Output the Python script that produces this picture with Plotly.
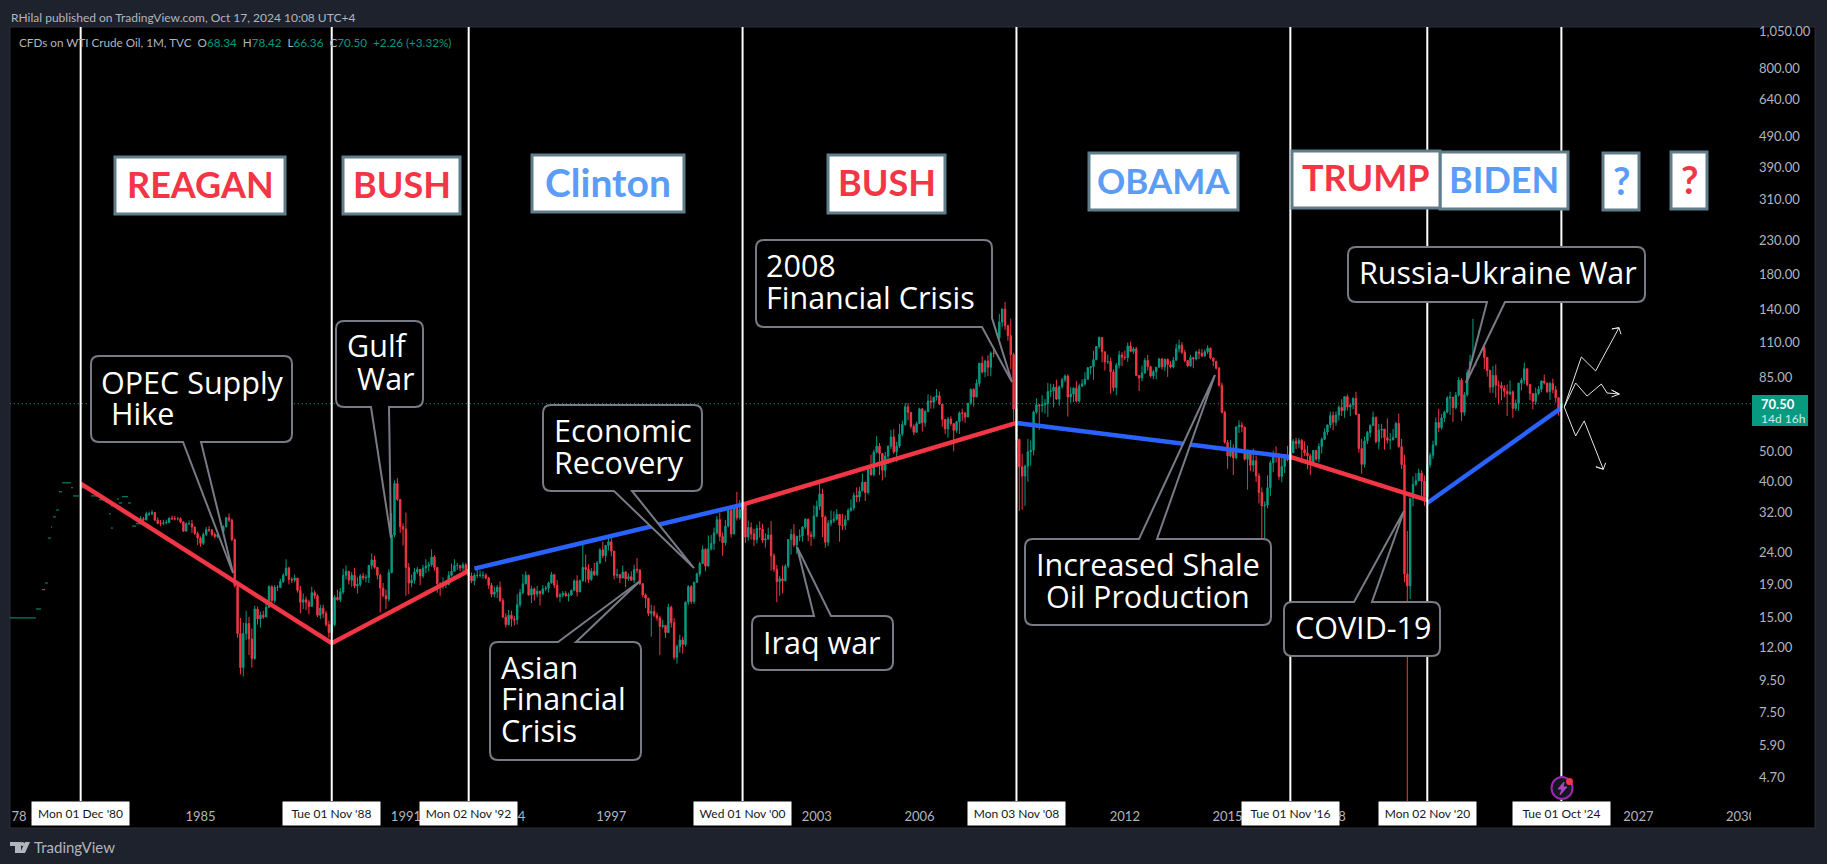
import math
import plotly.graph_objects as go

# ---------- data: monthly candles Apr 1983 .. Oct 2024 ----------
first_year, first_month = 1983, 4
closes = [
30.6,30.4,31.7,31.7,32.0,30.3,29.6,29.6,29.7,
29.8,30.7,30.6,30.6,30.6,29.9,28.0,29.5,29.5,28.8,27.5,26.6,
25.6,27.3,28.3,28.2,27.3,26.9,27.3,27.9,28.9,30.8,30.3,26.3,
18.8,13.3,10.4,13.3,14.3,12.8,11.1,15.9,14.8,15.2,15.0,16.1,
18.7,16.9,18.6,18.6,19.4,20.3,21.4,19.7,19.6,19.9,18.2,16.7,
17.0,16.7,16.2,17.9,17.5,15.2,16.0,15.4,14.2,13.4,14.2,17.3,
17.0,18.0,20.3,20.9,19.6,20.3,18.8,19.0,20.2,19.9,20.0,21.8,
22.7,21.5,20.3,18.5,17.5,17.1,20.7,27.2,39.5,35.2,28.9,28.4,
21.5,19.2,19.6,20.8,21.2,20.2,21.4,21.7,21.9,23.2,21.5,19.1,
18.9,19.0,19.0,20.3,20.9,21.8,21.8,21.4,21.9,20.7,20.2,19.5,
20.3,20.3,20.3,20.3,19.9,18.9,17.7,18.0,18.6,16.9,15.0,14.2,
15.2,14.8,14.7,16.4,17.9,19.1,20.3,17.6,18.4,17.7,18.1,17.8,
18.4,18.5,19.2,20.4,18.9,17.4,17.6,17.8,17.5,17.6,18.2,19.5,
18.0,19.5,21.5,21.2,19.7,20.9,20.4,22.2,24.4,23.4,25.2,25.9,
24.2,20.3,20.4,19.9,20.8,19.8,20.1,19.6,21.2,21.1,19.1,17.6,
17.2,15.4,15.6,15.2,14.9,14.0,14.1,13.4,16.1,14.4,11.2,12.1,
12.7,12.3,16.7,18.7,16.8,19.3,20.5,22.1,24.5,21.7,24.6,25.6,
27.6,30.4,26.9,25.7,29.0,32.5,27.4,33.1,30.8,32.7,33.8,26.8,
28.7,27.4,26.3,28.5,28.4,26.2,26.4,27.2,23.4,21.2,19.4,19.8,
19.5,21.7,26.3,27.3,25.3,26.9,27.0,28.8,30.5,27.2,26.9,31.2,
33.5,36.6,31.0,25.8,29.6,30.2,30.5,31.6,29.2,29.1,30.4,32.5,
33.1,36.2,35.8,37.4,39.9,37.0,43.8,42.1,49.6,51.8,49.1,43.5,
48.2,51.8,55.4,49.7,51.9,56.5,60.6,68.9,66.2,59.8,57.3,61.0,
67.9,61.4,66.6,71.9,71.3,73.9,74.6,70.3,62.9,58.7,63.1,61.0,
58.1,61.8,65.9,65.8,64.0,70.7,78.2,74.0,81.7,94.5,88.7,96.0,
91.8,101.8,101.6,113.5,127.4,140.0,124.1,115.5,100.6,67.8,54.4,44.6,
41.7,44.8,49.7,50.3,66.3,69.9,69.5,69.9,70.5,77.0,77.3,79.4,
72.9,79.7,83.8,86.2,74.0,75.6,78.9,71.9,79.97,81.4,84.1,91.4,
92.2,97.0,106.7,113.9,102.7,95.4,95.7,88.8,79.2,93.2,100.4,98.8,
98.5,107.1,103.0,104.9,86.5,84.96,88.1,96.5,92.2,86.2,88.9,91.8,
97.5,92.1,97.2,93.5,91.97,96.6,105.0,107.7,102.3,96.4,92.7,98.4,
97.5,102.6,101.6,99.7,102.7,105.4,98.2,95.96,91.2,80.5,66.2,53.3,
48.2,49.8,47.6,59.6,60.3,59.5,47.1,49.2,45.1,46.6,41.7,37.0,
33.6,33.8,38.3,45.9,49.1,48.3,41.6,44.7,48.2,46.9,49.4,53.7,
52.8,54.0,50.6,49.3,48.3,46.0,50.2,47.2,51.7,54.4,57.4,60.4,
64.7,61.6,64.9,68.6,67.0,74.2,68.8,69.8,73.2,65.3,50.9,45.4,
53.8,57.2,60.1,63.9,53.5,58.2,58.6,55.1,54.1,54.2,55.2,61.1,
51.6,45.3,20.5,18.8,35.5,39.3,40.3,42.6,40.2,35.9,45.3,48.5,
52.2,61.5,59.2,63.6,66.3,73.5,73.9,68.5,75.0,83.6,66.2,75.2,
88.2,95.7,100.3,104.7,114.7,105.8,98.6,89.6,79.5,86.5,80.6,80.5,
78.9,77.1,75.7,76.8,68.1,70.6,81.8,83.6,90.8,81.0,75.9,71.7,
75.9,78.3,83.1,81.9,76.9,81.6,78.0,73.6,68.24,70.50]
highs = [
31.2,31.0,32.2,32.2,32.6,32.1,30.9,30.3,30.4,
30.4,30.9,31.3,31.2,31.0,30.9,30.1,29.8,30.2,30.3,28.9,27.9,
26.9,27.7,28.8,29.0,28.4,27.7,27.8,28.3,29.2,31.0,31.8,30.6,
26.5,19.5,14.9,14.4,15.7,15.0,13.8,16.3,16.2,15.6,15.7,16.6,
18.9,18.9,18.9,18.9,19.8,20.6,22.8,21.6,20.0,20.4,19.9,18.8,
17.8,17.4,17.0,18.7,18.2,17.7,16.4,16.4,15.7,14.6,15.6,17.6,
18.3,18.5,21.3,21.8,20.9,20.8,21.4,20.0,20.5,20.7,20.4,21.9,
23.8,23.4,21.5,20.5,19.2,18.3,21.2,31.9,40.4,41.1,35.3,29.6,
32.0,22.2,20.4,21.4,21.6,21.1,21.9,22.8,22.4,24.5,23.5,21.1,
19.3,20.0,19.5,20.9,22.1,22.8,22.2,21.8,22.3,22.2,20.9,20.7,
20.6,21.2,21.0,20.9,20.6,20.1,19.2,18.7,18.9,19.4,17.2,15.4,
15.8,15.7,15.1,17.7,18.4,20.5,20.9,20.4,18.8,18.6,18.8,18.0,
18.9,18.8,19.4,20.8,20.5,19.6,17.9,18.1,18.1,17.9,18.3,19.7,
20.3,19.7,25.4,23.6,22.0,21.4,22.2,22.5,24.7,25.9,25.3,26.7,
26.6,24.2,21.3,20.5,21.8,20.9,20.6,20.9,21.9,23.0,21.2,19.2,
17.8,17.1,16.4,16.3,15.5,15.1,14.7,14.1,16.5,16.3,14.9,12.3,
13.2,13.0,16.8,18.9,18.9,19.4,20.7,22.4,25.2,24.7,27.1,27.2,
28.7,31.2,32.0,27.7,30.3,32.8,32.8,33.3,37.2,35.0,34.8,34.5,
30.2,29.8,28.4,29.3,30.0,29.5,27.5,28.7,30.1,23.8,21.9,20.2,
21.8,22.0,26.4,28.4,29.4,27.1,28.3,29.0,30.7,30.6,27.9,33.7,
34.9,39.9,38.0,31.3,30.3,32.5,32.3,32.8,31.6,31.7,31.4,33.0,
35.2,37.0,38.4,38.6,42.4,39.9,44.2,48.7,50.5,55.7,53.0,46.3,
49.7,52.1,58.3,58.6,53.5,60.9,62.3,70.8,70.8,66.0,60.6,61.9,
68.4,67.3,67.4,75.4,74.8,73.9,78.4,77.0,70.4,60.8,64.0,64.3,
58.7,62.3,66.7,67.9,66.5,70.9,78.8,78.8,84.1,94.7,99.3,97.0,
100.1,103.0,111.8,119.9,135.1,140.4,147.3,125.0,130.6,102.0,70.3,54.7,
49.0,45.3,54.6,54.0,67.0,73.4,70.2,75.0,72.9,82.0,81.5,81.4,
83.9,80.5,85.0,87.2,87.2,79.4,79.4,83.0,81.5,84.2,88.6,92.0,
92.6,103.4,107.0,114.8,114.2,102.4,100.6,98.5,90.5,94.7,103.4,102.4,
103.7,109.8,110.5,106.3,106.4,86.5,92.9,98.3,100.4,92.8,90.0,91.9,
98.2,98.2,97.8,97.8,96.1,99.0,108.9,112.2,110.2,104.3,95.9,100.4,
99.0,103.4,105.0,104.9,104.5,107.7,105.9,98.3,95.9,92.0,82.1,67.0,
54.2,54.2,52.5,59.7,62.5,61.7,59.5,49.3,47.9,50.9,48.4,42.6,
38.4,34.7,41.9,46.7,50.2,51.7,49.3,48.8,48.4,51.9,49.9,54.5,
55.0,54.9,54.6,53.7,52.0,49.0,50.4,50.2,52.9,55.2,59.0,60.6,
66.6,66.6,66.7,69.6,72.8,74.3,75.3,70.9,73.9,76.9,64.0,54.6,
55.5,57.8,60.7,66.6,63.9,60.9,60.9,57.4,63.4,56.9,58.7,61.8,
65.6,54.6,48.7,28.0,35.6,41.6,42.6,44.0,43.5,41.9,46.2,49.4,
53.9,63.8,67.9,65.5,67.0,74.4,76.9,73.8,76.7,85.4,84.9,76.7,
90.2,100.5,130.5,109.0,119.9,123.7,111.1,97.6,90.3,92.6,93.7,83.3,
82.6,80.6,81.0,83.4,77.6,72.7,82.0,84.9,95.0,90.9,80.2,76.1,
79.2,80.1,83.3,87.0,79.4,82.6,84.5,80.1,72.3,78.42]
lows = [
30.0,29.9,30.2,31.2,31.4,30.1,29.4,29.0,29.2,
29.4,29.7,30.3,30.2,30.2,29.6,27.8,27.8,29.3,27.6,27.2,25.3,
25.0,25.3,27.0,27.8,26.9,26.5,26.6,27.0,27.7,28.7,29.9,26.0,
18.6,12.9,9.9,9.75,12.7,11.4,10.4,11.0,14.2,13.9,14.8,15.0,
16.0,16.6,16.6,18.1,18.5,19.2,20.2,19.0,19.2,19.3,17.9,15.4,
15.9,15.8,15.3,16.2,17.1,15.0,14.8,14.9,14.0,12.9,13.3,14.0,
16.9,16.7,17.7,19.7,19.0,18.7,18.5,17.8,18.7,19.6,19.3,19.2,
21.2,21.3,19.7,15.5,17.3,15.9,16.8,20.6,26.7,34.8,27.6,25.2,
17.5,17.7,18.6,19.1,20.5,18.9,19.9,20.6,20.9,21.6,21.0,17.9,
17.5,18.4,18.5,18.9,20.1,21.0,21.1,20.9,20.9,20.5,19.5,19.2,
18.9,19.9,20.0,19.8,19.7,18.4,17.3,17.3,17.2,16.7,14.9,13.9,
14.1,14.0,14.1,14.2,16.1,17.7,19.0,17.5,16.6,16.9,17.3,16.3,
17.6,18.1,17.9,19.1,18.5,17.2,16.7,17.3,17.4,16.8,17.5,18.1,
17.4,18.0,19.4,19.3,19.2,19.5,20.2,20.2,22.1,23.0,22.4,24.3,
23.3,19.7,19.9,19.2,19.9,18.6,19.5,19.5,19.2,20.6,18.9,17.3,
16.0,15.1,13.0,15.0,14.6,11.4,13.8,12.9,13.4,13.9,11.0,10.7,
11.6,11.5,12.1,16.4,16.5,16.5,19.2,20.1,22.1,20.9,21.8,24.3,
24.4,27.3,26.0,23.4,25.2,28.7,26.7,27.3,30.2,30.4,31.7,25.7,
26.1,26.3,25.1,25.6,26.7,25.7,24.8,26.3,21.0,20.8,16.7,17.5,
17.8,19.6,21.4,23.6,24.9,23.7,26.0,25.9,28.4,26.0,25.1,26.4,
30.9,32.6,26.8,24.8,25.1,29.0,29.7,30.2,25.9,28.2,28.2,30.2,
32.2,32.5,34.5,34.6,37.5,34.8,36.5,41.8,41.6,49.2,42.0,40.4,
41.3,45.5,50.8,49.0,46.2,51.1,55.7,60.1,62.5,58.9,56.1,57.0,
61.3,57.6,59.6,66.3,68.0,68.0,72.1,69.6,59.6,56.6,55.1,60.0,
49.9,57.1,56.6,62.1,61.4,63.9,69.9,69.0,73.9,79.8,87.7,85.4,
86.1,86.1,98.7,100.4,112.3,122.7,120.4,111.3,90.5,62.0,48.3,32.4,
32.7,33.6,40.0,45.0,48.5,65.5,58.3,66.2,65.6,64.0,74.0,68.6,
72.4,69.5,78.6,82.4,64.2,71.0,71.3,71.2,71.0,79.5,80.3,84.1,
87.1,83.9,96.9,105.0,95.2,89.6,94.0,75.7,77.1,74.9,91.0,92.5,
96.8,95.4,102.3,101.2,86.0,77.3,83.0,87.5,89.6,85.2,84.1,84.1,
91.7,90.2,89.3,85.6,91.0,91.1,96.2,102.2,101.0,95.2,91.8,92.4,
91.2,96.4,97.4,98.8,98.8,101.0,97.2,92.5,90.4,79.8,65.7,52.7,
44.0,47.8,42.0,47.0,57.0,57.3,46.7,37.8,43.2,43.0,39.9,34.2,
26.1,26.0,33.0,36.1,42.9,46.0,40.6,39.9,42.6,46.4,42.9,49.7,
50.7,51.2,47.0,48.2,43.8,42.0,45.4,46.5,46.0,49.1,54.8,56.1,
59.1,58.1,60.0,62.5,64.5,63.6,67.0,64.4,67.7,64.8,49.4,42.4,
44.4,52.6,55.2,59.9,52.8,50.6,54.8,50.5,52.8,50.6,54.7,55.0,
51.2,43.9,19.3,0.3,17.1,33.5,38.7,40.4,36.0,33.6,33.6,44.3,
47.3,52.0,57.3,58.4,61.6,65.7,65.0,61.7,67.6,74.2,62.3,64.6,
74.3,87.0,93.5,92.9,98.2,104.6,90.6,85.8,76.3,76.3,73.6,70.1,
72.3,73.8,64.4,74.9,63.6,66.9,67.0,77.6,81.4,79.8,72.2,67.7,
69.9,75.0,76.6,81.0,76.2,72.5,76.0,71.1,64.7,66.36]
first_open, latest_open = 30.4, 68.34

# sparse early quotes before 1983: month position start, end, price
early_x0 = [-66.8,-57.7,-55.6,-54.5,-53.5,-52.4,-51.7,-50.6,-49.6,-48.5,-45.4,-44.7,-41.9,-38.4,-35.6,-33.5,-31.4,-29.3,-28.6,-27.5,-25.4,-32.1,-31.4,-24.0,-22.6]
early_x1 = [-57.7,-55.9,-54.5,-53.5,-52.4,-52.0,-50.6,-49.6,-48.5,-45.4,-44.7,-42.6,-38.8,-35.6,-33.5,-31.4,-29.3,-28.6,-27.5,-25.4,-24.4,-31.4,-30.7,-22.6,-20.5]
early_px = [14.9,15.9,18.3,19.2,26.6,28.8,31.0,32.6,37.2,39.7,38.3,36.1,38.3,36.1,35.1,34.6,33.6,35.3,34.3,35.9,34.3,31.7,28.6,29.0,29.5]

# presidential term markers (month position on the bar axis) and their labels
era_x = [-42, 46, 94, 190, 286, 382, 430, 477]
era_labels = ["Mon 01 Dec '80","Tue 01 Nov '88","Mon 02 Nov '92","Wed 01 Nov '00","Mon 03 Nov '08","Tue 01 Nov '16","Mon 02 Nov '20","Tue 01 Oct '24"]

# party trend lines: x position, price
trend_red1_x, trend_red1_y = [-42, 46, 94], [39.5, 12.4, 21.0]
trend_blue1_x, trend_blue1_y = [96, 190], [21.3, 33.9]
trend_red2_x, trend_red2_y = [190, 286], [33.9, 61.3]
trend_blue2_x, trend_blue2_y = [286, 382], [61.3, 47.9]
trend_red3_x, trend_red3_y = [382, 430], [47.9, 35.0]
trend_blue3_x, trend_blue3_y = [430, 477], [34.3, 68.4]

# scenario arrows after the last bar
up_x, up_y = [478, 484.0, 489.0, 497.2, 494.7, 497.2, 497.9], [68.8, 98.9, 89.4, 122.3, 121.2, 122.3, 116.6]
side_x, side_y = [478, 482.0, 486.0, 491.0, 493.0, 497.3, 494.6, 497.3, 494.6], [68.8, 81.9, 74.5, 81.3, 76.2, 75.6, 77.8, 75.6, 74.0]
down_x, down_y = [478, 482.0, 485.0, 491.7, 489.1, 491.7, 492.5], [68.8, 55.8, 62.2, 43.8, 44.6, 43.8, 45.9]

# axis labels (labels hidden behind the term-date boxes in the source show only their visible digits)
price_ticks = [1050,800,640,490,390,310,230,180,140,110,85,50,40,32,24,19,15,12,9.5,7.5,5.9,4.7]
price_text = ["1,050.00","800.00","640.00","490.00","390.00","310.00","230.00","180.00","140.00","110.00","85.00","50.00","40.00","32.00","24.00","19.00","15.00","12.00","9.50","7.50","5.90","4.70"]
year_ticks = [-63.6,0,72,112.5,144,216,252,324,360,400.1,504,540]
year_text = ["78","1985","1991","4","1997","2003","2006","2012","2015","8","2027","2030"]

# ---------- layout constants ----------
W, H = 1827, 864
L, R, T, B = 10, 1751, 27, 801
X0, PXM = 200.5, 2.853          # pixel of month 0, pixels per month
Y_TOP, Y_BOTTOM = 1083, 3.95
BG = "#1e222d"; GRID = "#2a2e39"
RED, BLUE, UP = "#f23645", "#2962ff", "#089981"
LBLUE = "#5b9cf6"; TXT = "#b2b5be"; EDGE = "#787b86"; BOXEDGE = "#607d8b"
FONT = "Lato, 'Open Sans', sans-serif"
CALLOUT_FONT = "'Open Sans', Lato, sans-serif"

def fx(px): return (px - L) / (R - L)
def fy(py): return 1 - (py - T) / (B - T)

months = list(range(-21, -21 + len(closes)))
assert len(closes) == len(highs) == len(lows)
opens = [first_open] + closes[:-1]
opens[-1] = latest_open

shapes, annos = [], []

def rect(x0, y0, x1, y1, fill, line=None, lw=0, layer="above"):
    shapes.append(dict(type="rect", xref="paper", yref="paper", x0=fx(x0), x1=fx(x1), y0=fy(y0), y1=fy(y1),
                       fillcolor=fill, line=dict(color=line or fill, width=lw), layer=layer))

def path(points, fill=None, line=EDGE, lw=2, close=True, layer="above"):
    d = ""
    for p in points:
        if p[0] == "Q":
            d += f" Q {fx(p[1]):.5f} {fy(p[2]):.5f} {fx(p[3]):.5f} {fy(p[4]):.5f}"
        else:
            d += f" {'M' if not d else 'L'} {fx(p[0]):.5f} {fy(p[1]):.5f}"
    if close: d += " Z"
    shapes.append(dict(type="path", xref="paper", yref="paper", path=d, fillcolor=fill or "rgba(0,0,0,0)",
                       line=dict(color=line, width=lw), layer=layer))

def text(s, px, py, size, color="#ffffff", anchor="left", family=FONT):
    annos.append(dict(text=s, xref="paper", yref="paper", x=fx(px), y=fy(py), xanchor=anchor, yanchor="middle",
                      showarrow=False, font=dict(family=family, size=size, color=color), borderpad=0))

def callout(x0, y0, x1, y1, side, a, b, tip, lines, size=30.5):
    r = 8
    pts = [(x0 + r, y0)]
    if side == "top": pts += [(a, y0), tip, (b, y0)]
    pts += [(x1 - r, y0), ("Q", x1, y0, x1, y0 + r)]
    if side == "corner":
        pts += [(x1, a[1]), tip, b]
    else:
        pts += [(x1, y1 - r), ("Q", x1, y1, x1 - r, y1)]
        if side == "bottom": pts += [(b, y1), tip, (a, y1)]
    pts += [(x0 + r, y1), ("Q", x0, y1, x0, y1 - r), (x0, y0 + r), ("Q", x0, y0, x0 + r, y0)]
    path(pts, fill="#000000")
    for s, px, py in lines:
        text(s, px - 2, py, size, family=CALLOUT_FONT)

# pane, axis strips
rect(L, T, 1815, 828, "#000000", GRID, 1, layer="below")

# term marker lines
for x in era_x:
    shapes.append(dict(type="line", xref="x", yref="paper", x0=x, x1=x, y0=0, y1=1,
                       line=dict(color="#ffffff", width=2), layer="above"))

# clip partial tick label at the pane's right edge
rect(R, B, 1757, 826, "#000000")

# callouts
callout(91,356,292,442,"bottom",183,201,(233,573),[("OPEC Supply",102,382),("Hike",112,413)])
callout(336,321,423,407,"bottom",371,389,(391,538),[("Gulf",348,345),("War",358,378)])
callout(543,405,702,491,"bottom",614,632,(694,568),[("Economic",555,430),("Recovery",555,462)])
callout(490,642,641,760,"top",558,576,(640,581),[("Asian",502,667),("Financial",502,698),("Crisis",502,730)])
callout(752,616,893,670,"top",814,831,(797,547),[("Iraq war",764,642)])
callout(756,240,992,327,"corner",(992,318),(982,327),(1012,382),[("2008",767,265),("Financial Crisis",767,297)])
callout(1025,539,1271,625,"top",1139,1157,(1215,375),[("Increased Shale",1037,564),("Oil Production",1047,596)])
callout(1284,602,1440,656,"top",1354,1372,(1404,511),[("COVID-19",1296,627)])
callout(1348,247,1645,302,"bottom",1487,1505,(1466,383),[("Russia-Ukraine War",1360,272)])

# president boxes
pres = [("REAGAN",115,157,285,214,RED,36),("BUSH",343,157,460,214,RED,36),("Clinton",532,155,684,212,LBLUE,39),
        ("BUSH",828,155,945,213,RED,36),("OBAMA",1089,153,1238,210,LBLUE,35),("BIDEN",1440,152,1568,209,LBLUE,36),
        ("TRUMP",1292,151,1440,208,RED,36),("?",1603,153,1639,210,LBLUE,38),("?",1671,152,1707,209,RED,38)]
for s,x0,y0,x1,y1,c,sz in pres:
    rect(x0,y0,x1,y1,"#ffffff",BOXEDGE,3)
    text(f"<b>{s}</b>",(x0+x1)/2,(y0+y1)/2-2,sz,c,"center")

# era date boxes
for x,lab in zip(era_x,era_labels):
    annos.append(dict(text=lab,xref="x",yref="paper",x=x,y=fy(801),yanchor="top",xanchor="center",showarrow=False,
                      font=dict(family=FONT,size=12,color="#131722"),bgcolor="#ffffff",width=97,height=23,
                      align="center",valign="middle",borderpad=0))

# header, legend
text("RHilal published on TradingView.com, Oct 17, 2024 10:08 UTC+4",10,17,12,TXT)
text("CFDs on WTI Crude Oil, 1M, TVC &nbsp;O<span style='color:#089981'>68.34</span> &nbsp;H<span style='color:#089981'>78.42</span> &nbsp;L<span style='color:#089981'>66.36</span> &nbsp;C<span style='color:#089981'>70.50 &nbsp;+2.26 (+3.32%)</span>",18,42,11.7,TXT)

# price tag
rect(1752,395,1808,426,UP)
text("<b>70.50</b>",1760,404,13,"#ffffff")
text("14d 16h",1760,418,12,"#cdeae3")

# alert icon
shapes.append(dict(type="circle",xref="paper",yref="paper",x0=fx(1551.5),x1=fx(1572.5),y0=fy(777),y1=fy(799),
                   fillcolor="#131722",line=dict(color="#9c27b0",width=2),layer="above"))
path([(1564,782),(1558,789),(1562,789),(1560,795),(1567,787),(1563,787)],fill="#ab47bc",line="#ab47bc",lw=1)
shapes.append(dict(type="circle",xref="paper",yref="paper",x0=fx(1566),x1=fx(1573),y0=fy(778),y1=fy(785),
                   fillcolor=RED,line=dict(color=RED,width=0),layer="above"))

# TradingView logo
path([(10,842),(21,842),(21,853),(15,853),(15,846),(10,846)],fill=TXT,line=TXT,lw=0)
shapes.append(dict(type="circle",xref="paper",yref="paper",x0=fx(20.5),x1=fx(24.5),y0=fy(842),y1=fy(846),
                   fillcolor=TXT,line=dict(color=TXT,width=0),layer="above"))
path([(25,842),(30,842),(25,853),(20,853)],fill=TXT,line=TXT,lw=0)
text("TradingView",33,847,15,TXT)

# ---------- traces ----------
fig = go.Figure()
ex, ey = [], []
for a,b,p in zip(early_x0,early_x1,early_px):
    ex += [a,b,None]; ey += [p,p,None]
fig.add_trace(go.Scatter(x=ex,y=ey,mode="lines",line=dict(color=UP,width=1),hoverinfo="skip",showlegend=False))
fig.add_trace(go.Candlestick(x=months,open=opens,high=highs,low=lows,close=closes,showlegend=False,hoverinfo="skip",
    whiskerwidth=0,
    increasing=dict(line=dict(color=UP,width=1),fillcolor=UP),
    decreasing=dict(line=dict(color=RED,width=1),fillcolor=RED)))
fig.add_trace(go.Scatter(x=[early_x0[0],(R-X0)/PXM],y=[closes[-1]]*2,mode="lines",
    line=dict(color=UP,width=1,dash="1px,3px"),hoverinfo="skip",showlegend=False))
for xs,ys,c in [(trend_red1_x,trend_red1_y,RED),(trend_blue1_x,trend_blue1_y,BLUE),(trend_red2_x,trend_red2_y,RED),
                (trend_blue2_x,trend_blue2_y,BLUE),(trend_red3_x,trend_red3_y,RED),(trend_blue3_x,trend_blue3_y,BLUE)]:
    fig.add_trace(go.Scatter(x=xs,y=ys,mode="lines",line=dict(color=c,width=4.5),hoverinfo="skip",showlegend=False))
for xs,ys in [(up_x,up_y),(side_x,side_y),(down_x,down_y)]:
    fig.add_trace(go.Scatter(x=xs,y=ys,mode="lines",line=dict(color="#e6e6e6",width=1),hoverinfo="skip",showlegend=False))

fig.update_layout(
    width=W,height=H,margin=dict(l=L,r=W-R,t=T,b=H-B),paper_bgcolor=BG,plot_bgcolor="#000000",
    showlegend=False,shapes=shapes,annotations=annos,hovermode=False,
    font=dict(family=FONT,color=TXT,size=13),
    xaxis=dict(type="linear",range=[(L-X0)/PXM,(R-X0)/PXM],rangeslider=dict(visible=False),showgrid=False,zeroline=False,
               showline=False,tickmode="array",tickvals=year_ticks,ticktext=year_text,ticks="",ticklabelstandoff=6,
               tickfont=dict(family=FONT,size=13,color=TXT),fixedrange=True),
    yaxis=dict(type="log",side="right",range=[math.log10(Y_BOTTOM),math.log10(Y_TOP)],showgrid=False,zeroline=False,
               showline=False,tickmode="array",tickvals=price_ticks,ticktext=price_text,ticks="",ticklabelstandoff=7,
               tickfont=dict(family=FONT,size=13,color=TXT),fixedrange=True),
)
fig.write_html("out.html",config=dict(displayModeBar=False),
               post_script="document.body.style.margin='0';document.body.style.background='#1e222d';document.body.style.overflow='hidden';")
